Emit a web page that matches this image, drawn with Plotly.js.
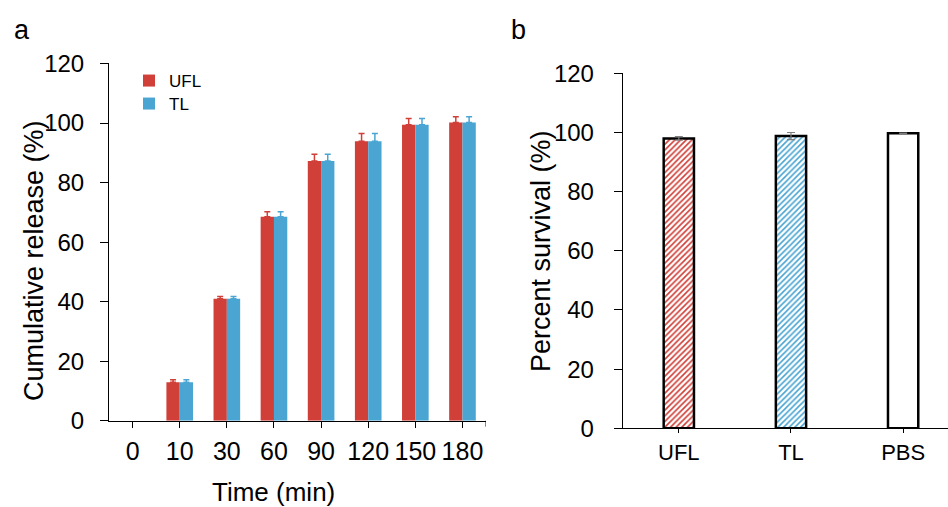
<!DOCTYPE html>
<html><head><meta charset="utf-8">
<script src="https://cdn.plot.ly/plotly-3.0.1.min.js"></script>
<style>html,body{margin:0;padding:0;background:#fff}</style>
</head><body><div id="chart" style="width:948px;height:507px"></div>
<script>
// Panel a: cumulative release
const timeLabels = ['0', '10', '30', '60', '90', '120', '150', '180'];
const uflRelease = [0, 12.9, 41.0, 68.5, 87.2, 93.9, 99.4, 100.2];
const uflReleaseErr = [0, 0.9, 0.7, 1.7, 2.3, 2.6, 2.1, 1.9];
const tlRelease = [0, 12.9, 41.0, 68.5, 87.2, 93.9, 99.4, 100.2];
const tlReleaseErr = [0, 0.9, 0.7, 1.7, 2.3, 2.6, 2.1, 1.9];
// Panel b: percent survival
const groups = ['UFL', 'TL', 'PBS'];
const survival = [98.0, 98.8, 99.7];
const survivalErr = [0.6, 1.2, 0.1];

const RED = '#D03F38', BLUE = '#4AA5D2';
const FONT = 'Liberation Sans, Arial, sans-serif';
const zeros = a => a.map(() => 0);
// a zero release draws no bar (and no error cap) at all, as in the original figure
const dropZero = a => a.map(v => (v === 0 ? null : v));

const traces = [
  {type: 'bar', name: 'UFL', x: timeLabels, y: dropZero(uflRelease), xaxis: 'x', yaxis: 'y', legend: 'legend',
   marker: {color: RED},
   error_y: {type: 'data', symmetric: false, array: uflReleaseErr, arrayminus: zeros(uflReleaseErr),
             color: RED, thickness: 1.5, width: 3}},
  {type: 'bar', name: 'TL', x: timeLabels, y: dropZero(tlRelease), xaxis: 'x', yaxis: 'y', legend: 'legend2',
   marker: {color: BLUE},
   error_y: {type: 'data', symmetric: false, array: tlReleaseErr, arrayminus: zeros(tlReleaseErr),
             color: BLUE, thickness: 1.5, width: 3}},
  {type: 'bar', name: 'survival', x: groups, y: survival, xaxis: 'x2', yaxis: 'y2',
   width: 0.27, showlegend: false,
   marker: {color: 'white', line: {color: '#000', width: 2.5},
            pattern: {shape: ['/', '/', ''], fgcolor: [RED, BLUE, 'white'], bgcolor: 'white',
                      size: 4, solidity: 0.4, fillmode: 'replace'}},
   error_y: {type: 'data', array: survivalErr, color: '#7f7f7f', thickness: 1.2, width: 4}}
];

const axCommon = {showline: true, linecolor: '#000', linewidth: 1, ticks: 'outside',
  tickcolor: '#000', tickwidth: 1, showgrid: false, zeroline: false, fixedrange: true};
const legCommon = {xanchor: 'left', yanchor: 'top', bgcolor: 'rgba(0,0,0,0)',
  font: {size: 17, family: FONT}, borderwidth: 0};
const py = p => 1 - p / 507, px = p => p / 948;

const layout = {
  width: 948, height: 507, margin: {l: 0, r: 0, t: 0, b: 0},
  paper_bgcolor: '#fff', plot_bgcolor: 'rgba(0,0,0,0)',
  font: {family: FONT, color: '#000'},
  barmode: 'group', bargap: 0.435, bargroupgap: 0,
  showlegend: true,
  legend: Object.assign({}, legCommon, {x: px(129), y: py(63)}),
  legend2: Object.assign({}, legCommon, {x: px(129), y: py(86)}),
  xaxis: Object.assign({}, axCommon, {domain: [0.115, 0.5127], anchor: 'y', type: 'category',
    range: [-0.5, 7.5], ticklen: 6, tickfont: {size: 25, family: FONT}, ticklabelstandoff: 2}),
  yaxis: Object.assign({}, axCommon, {domain: [0.1702, 0.8748], anchor: 'x', range: [0, 120],
    dtick: 20, ticklen: 8, tickfont: {size: 24, family: FONT}, ticklabelstandoff: 11}),
  xaxis2: Object.assign({}, axCommon, {domain: [0.6569, 1], anchor: 'y2', type: 'category',
    range: [-0.5, 2.4], ticklen: 4, tickfont: {size: 22, family: FONT}}),
  yaxis2: Object.assign({}, axCommon, {domain: [0.1552, 0.8554], anchor: 'x2', range: [0, 120],
    dtick: 20, ticklen: 8, tickfont: {size: 24, family: FONT}, ticklabelstandoff: 15}),
  shapes: [
    {type: 'line', xref: 'x', yref: 'paper', x0: 7.5, x1: 7.5, y0: 0.1702, y1: 0.1702 - 6/507,
     line: {color: '#000', width: 1}}
  ],
  annotations: [
    {text: 'a', xref: 'paper', yref: 'paper', x: px(12), y: py(30), xanchor: 'left', yanchor: 'middle',
     showarrow: false, font: {size: 27, family: FONT}},
    {text: 'b', xref: 'paper', yref: 'paper', x: px(509), y: py(30), xanchor: 'left', yanchor: 'middle',
     showarrow: false, font: {size: 27, family: FONT}},
    {text: 'Cumulative release (%)', xref: 'paper', yref: 'paper', x: px(34), y: py(261),
     xanchor: 'center', yanchor: 'middle', textangle: -90, showarrow: false, font: {size: 27, family: FONT}},
    {text: 'Time (min)', xref: 'paper', yref: 'paper', x: px(273.5), y: py(492),
     xanchor: 'center', yanchor: 'middle', showarrow: false, font: {size: 26, family: FONT}},
    {text: 'Percent survival (%)', xref: 'paper', yref: 'paper', x: px(541), y: py(251),
     xanchor: 'center', yanchor: 'middle', textangle: -90, showarrow: false, font: {size: 27, family: FONT}}
  ]
};

Plotly.newPlot('chart', traces, layout, {displayModeBar: false, staticPlot: true});
</script></body></html>
